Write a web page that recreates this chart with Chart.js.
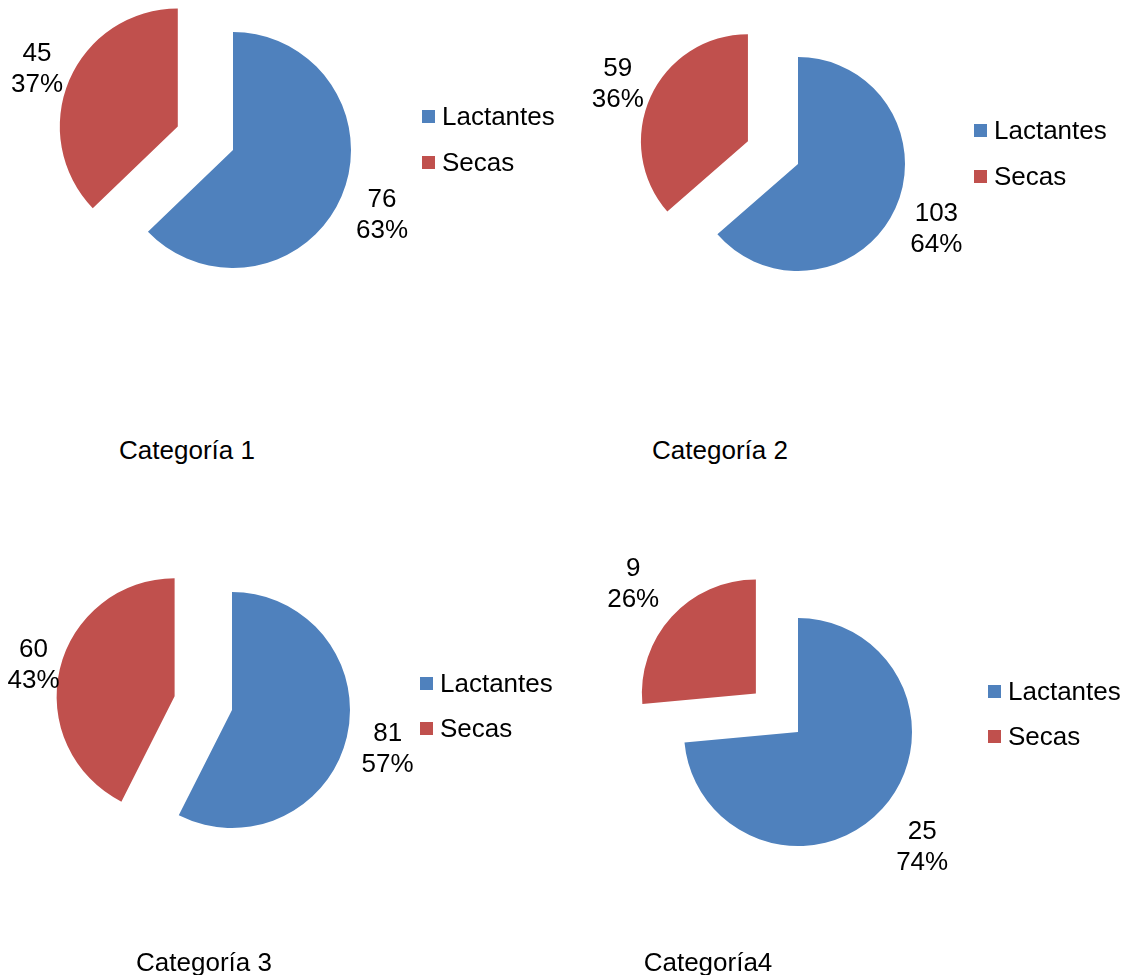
<!DOCTYPE html>
<html>
<head>
<meta charset="utf-8">
<script src="https://cdn.jsdelivr.net/npm/chart.js@4/dist/chart.umd.min.js"></script>
<style>
    html, body { margin: 0; padding: 0; background: #fff; }
    body { width: 1134px; height: 975px; position: relative; overflow: hidden;
           font-family: "Liberation Sans", Arial, sans-serif; color: #000; }
    canvas { position: absolute; }
    .row { position: absolute; height: 30px; line-height: 30px; font-size: 26px;
           display: flex; align-items: center; white-space: nowrap; }
    .row span.box { width: 13px; height: 13px; margin-right: 7px; }
    .title { position: absolute; width: 300px; height: 30px; line-height: 30px;
             font-size: 26px; text-align: center; white-space: nowrap; }
</style>
</head>
<body>
<script>
// Herd composition per category
const categories = ['Lactantes', 'Secas'];
const panelTitles = ['Categoría 1', 'Categoría 2', 'Categoría 3', 'Categoría4'];
const lactantes = [76, 103, 81, 25];
const secas = [45, 59, 60, 9];
const colors = ['#4F81BD', '#C0504D'];

// Where each pie sits on the page and how far the "Secas" slice is pulled out
const panels = [
    { cx: 233, cy: 150, r: 118, explode: 60, gap: [44, 35], legX: 422, legY: [116, 162], titleX: 187, titleY: 450 },
    { cx: 798, cy: 164, r: 107, explode: 55, gap: [45, 36], legX: 974, legY: [130, 176], titleX: 720, titleY: 450 },
    { cx: 232, cy: 710, r: 118, explode: 59, gap: [42, 27], legX: 420, legY: [683, 728], titleX: 204, titleY: 962 },
    { cx: 798, cy: 732, r: 114, explode: 57, gap: [54, 52], legX: 988, legY: [691, 736], titleX: 708, titleY: 962 }
];

const FONT = '26px "Liberation Sans", Arial, sans-serif';
const HALF = 250;

// Draw arcs ourselves so a slice can be shifted without growing its radius
const explodePlugin = {
    id: 'explodeSlices',
    beforeDatasetDraw(chart, args) {
        const ctx = chart.ctx;
        const ds = chart.data.datasets[args.index];
        args.meta.data.forEach((arc, i) => {
            const d = (ds.explode || [])[i] || 0;
            const mid = (arc.startAngle + arc.endAngle) / 2;
            ctx.save();
            ctx.translate(Math.cos(mid) * d, Math.sin(mid) * d);
            arc.draw(ctx);
            ctx.restore();
        });
        return false;
    }
};

// Value + percentage outside each slice
const labelPlugin = {
    id: 'sliceLabels',
    afterDatasetsDraw(chart) {
        const ctx = chart.ctx;
        const ds = chart.data.datasets[0];
        const meta = chart.getDatasetMeta(0);
        const total = ds.data.reduce((a, b) => a + b, 0);
        ctx.save();
        ctx.font = FONT;
        ctx.fillStyle = '#000';
        ctx.textAlign = 'center';
        ctx.textBaseline = 'alphabetic';
        meta.data.forEach((arc, i) => {
            const mid = (arc.startAngle + arc.endAngle) / 2;
            const dist = (ds.explode[i] || 0) + arc.outerRadius + ds.labelGap[i];
            const x = arc.x + Math.cos(mid) * dist;
            const y = arc.y + Math.sin(mid) * dist;
            const pct = Math.round(ds.data[i] / total * 100) + '%';
            ctx.fillText(String(ds.data[i]), x, y - 15.5 + 9.5);
            ctx.fillText(pct, x, y + 15.5 + 9.5);
        });
        ctx.restore();
    }
};

panels.forEach((p, k) => {
    const canvas = document.createElement('canvas');
    canvas.width = HALF * 2;
    canvas.height = HALF * 2;
    canvas.style.left = (p.cx - HALF) + 'px';
    canvas.style.top = (p.cy - HALF) + 'px';
    document.body.appendChild(canvas);

    new Chart(canvas, {
        type: 'pie',
        data: {
            labels: categories,
            datasets: [{
                data: [lactantes[k], secas[k]],
                backgroundColor: colors,
                borderWidth: 0,
                explode: [0, p.explode],
                labelGap: p.gap
            }]
        },
        options: {
            responsive: false,
            animation: false,
            radius: p.r,
            layout: { padding: 0 },
            events: [],
            plugins: {
                legend: { display: false },
                tooltip: { enabled: false }
            }
        },
        plugins: [explodePlugin, labelPlugin]
    });

    // legend
    categories.forEach((name, i) => {
        const row = document.createElement('div');
        row.className = 'row';
        row.style.left = p.legX + 'px';
        row.style.top = (p.legY[i] - 15) + 'px';
        const box = document.createElement('span');
        box.className = 'box';
        box.style.background = colors[i];
        row.appendChild(box);
        row.appendChild(document.createTextNode(name));
        document.body.appendChild(row);
    });

    // title under each pie
    const t = document.createElement('div');
    t.className = 'title';
    t.textContent = panelTitles[k];
    t.style.left = (p.titleX - 150) + 'px';
    t.style.top = (p.titleY - 15) + 'px';
    document.body.appendChild(t);
});
</script>
</body>
</html>
